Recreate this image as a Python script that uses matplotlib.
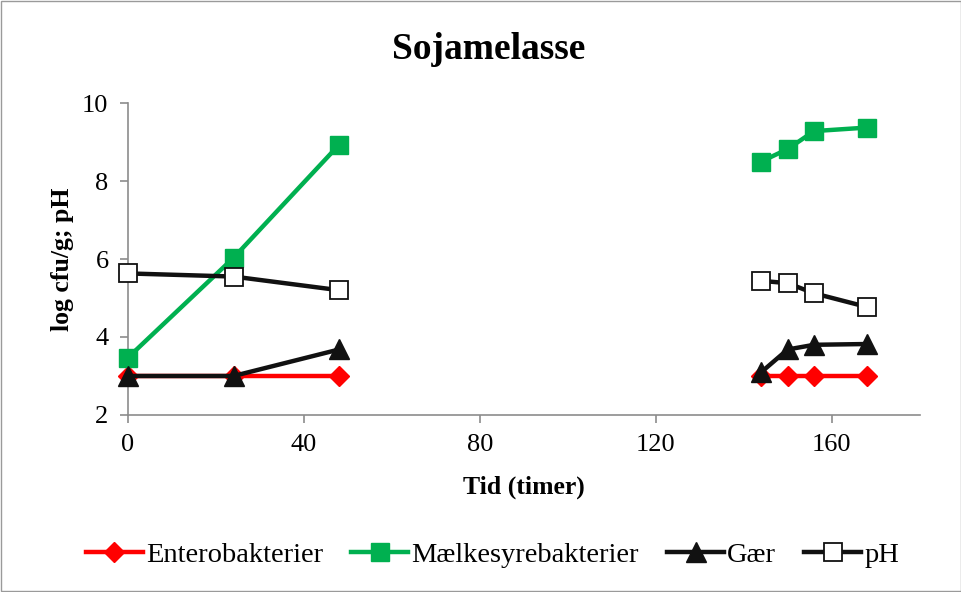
import numpy as np
import matplotlib
matplotlib.use("Agg")
import matplotlib.pyplot as plt
from matplotlib.patches import Rectangle

plt.rcParams['font.family'] = ['Liberation Serif', 'DejaVu Serif']

# Sampling times (hours); NaN separates the two sampling periods
hours = [0, 24, 48, np.nan, 144, 150, 156, 168]

entero = [3.0, 3.0, 3.0, np.nan, 3.0, 3.0, 3.0, 3.0]
lab = [3.47, 6.03, 8.93, np.nan, 8.5, 8.82, 9.28, 9.37]
yeast = [3.0, 3.0, 3.68, np.nan, 3.1, 3.68, 3.8, 3.82]
ph = [5.63, 5.55, 5.2, np.nan, 5.44, 5.38, 5.12, 4.77]

labels = ["Enterobakterier", "Mælkesyrebakterier", "Gær", "pH"]
x_ticks = [0, 40, 80, 120, 160]
y_ticks = [2, 4, 6, 8, 10]

fig = plt.figure(figsize=(9.62, 5.92), dpi=100)
fig.patches.append(Rectangle((0.001, 0.001), 0.998, 0.998, transform=fig.transFigure,
                             fill=False, edgecolor="#9a9a9a", linewidth=1.0))
ax = fig.add_axes([0.133, 0.299, 0.823, 0.527])

lw = 3.2
common = dict(lw=lw, clip_on=False)
ax.plot(hours, entero, color="#ff0000", marker="D", ms=10,
        mfc="#ff0000", mec="#ff0000", label=labels[0], zorder=2, **common)
ax.plot(hours, lab, color="#00b050", marker="s", ms=13,
        mfc="#00b050", mec="#00b050", label=labels[1], zorder=3, **common)
ax.plot(hours, yeast, color="#111111", marker="^", ms=14,
        mfc="#111111", mec="#111111", label=labels[2], zorder=4, **common)
ax.plot(hours, ph, color="#111111", marker="s", ms=13,
        mfc="white", mec="#111111", mew=1.3, label=labels[3], zorder=4, **common)

ax.set_xlim(0, 180)
ax.set_ylim(2, 10)
ax.set_xticks(x_ticks)
ax.set_yticks(y_ticks)
ax.tick_params(axis="both", labelsize=19, direction="out", length=6,
               color="#8c8c8c", width=1.2)
ax.tick_params(axis="x", pad=8)
ax.tick_params(axis="y", pad=8)
for s in ["top", "right"]:
    ax.spines[s].set_visible(False)
for s in ["left", "bottom"]:
    ax.spines[s].set_color("#8c8c8c")
    ax.spines[s].set_linewidth(1.2)

ax.set_xlabel("Tid (timer)", fontsize=18.5, fontweight="bold", labelpad=14)
ax.set_ylabel("log cfu/g; pH", fontsize=18.5, fontweight="bold", labelpad=6)
fig.text(0.508, 0.916, "Sojamelasse", ha="center", va="center",
         fontsize=27, fontweight="bold")

fig.legend(loc="center", bbox_to_anchor=(0.512, 0.063), ncol=4, frameon=False,
           fontsize=20.5, handlelength=2.0, handletextpad=0.1, columnspacing=1.0,
           markerscale=1.0)

fig.savefig("out.png", dpi=100)
